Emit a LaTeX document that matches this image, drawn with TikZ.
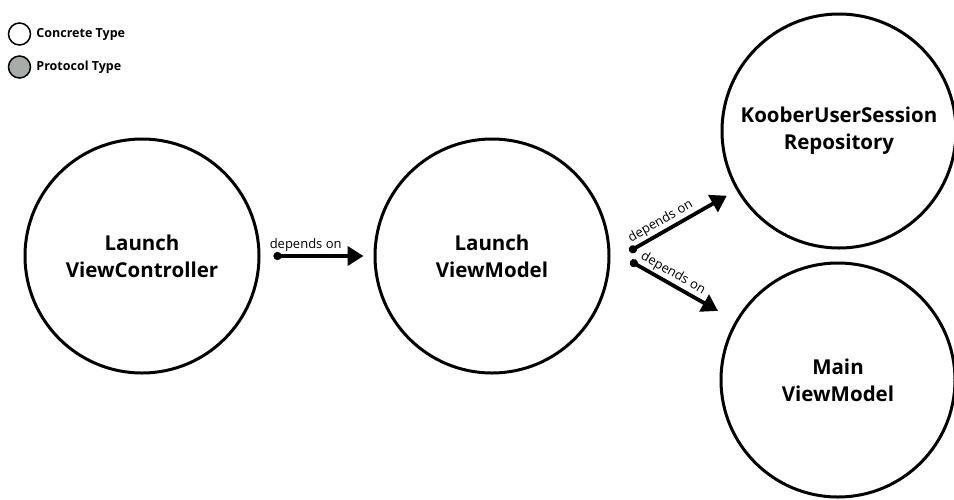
\documentclass[tikz,border=0pt]{standalone}
\usepackage{fontspec}
\setmainfont{Open Sans}
\usepackage{tikz}
\usetikzlibrary{positioning, arrows.meta}
\definecolor{protogray}{RGB}{168,172,168}

\begin{document}
\begin{tikzpicture}[
            x=1pt, y=-1pt,
            unit/.style={circle, draw, line width=3pt, minimum size=234pt, inner sep=0pt, align=center,
                font=\fontsize{20.5}{27}\selectfont\bfseries},
            key/.style={circle, draw, line width=1.5pt, minimum size=22pt, inner sep=0pt},
            keylabel/.style={right=5pt, font=\fontsize{12.5}{14}\selectfont\bfseries, inner sep=0pt},
            arrow/.style={{Circle[length=8pt, width=8pt]}-{Triangle[length=16pt, width=19pt]}, line width=3.8pt},
            dep/.style={sloped, above, font=\fontsize{13}{15}\selectfont, inner sep=2pt}
        ]
        \useasboundingbox (0,0) rectangle (954,499);

        % Legend
        \node[key] (concrete) at (19.5,34) {};
        \node[keylabel] at (concrete.east) {Concrete Type};
        \node[key, fill=protogray] (protocol) at (19.5,67) {};
        \node[keylabel] at (protocol.east) {Protocol Type};

        % Define the types as nodes
        \node[unit] (launchvc) at (142,256) {Launch\\ViewController};
        \node[unit, right=113pt of launchvc] (launchvm) {Launch\\ViewModel};
        \node[unit] (repository) at (839,131) {KooberUserSession\\Repository};
        \node[unit] (mainvm) at (838,380) {Main\\ViewModel};

        % Draw the dependencies
        \draw[arrow, shorten <=13pt, shorten >=10pt] (launchvc) -- node[dep, pos=0.4] {depends on} (launchvm);
        \draw[arrow, shorten <=22pt, shorten >=11pt] (launchvm.-3) -- node[dep, pos=0.44] {depends on} (repository.210);
        \draw[arrow, shorten <=23pt, shorten >=20pt] (launchvm.3) -- node[dep, pos=0.46] {depends on} (mainvm.150);
    \end{tikzpicture}
\end{document}
